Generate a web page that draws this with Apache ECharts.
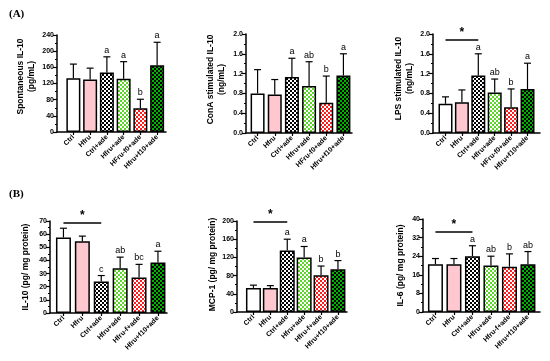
<!DOCTYPE html>
<html><head><meta charset="utf-8">
<script src="https://cdn.jsdelivr.net/npm/echarts@6/dist/echarts.min.js"></script>
<style>html,body{margin:0;padding:0;background:#fff}#c{width:550px;height:361px}</style>
</head><body><div id="c"></div>
<script>
// ---------- data ----------
const catsTop = ['Ctrl','Hfru','Ctrl+ade','Hfru+ade','HFru-f0+ade','Hfru+f10+ade'];
const catsBottom = ['Ctrl','Hfru','Ctrl+ade','Hfru+ade','Hfru-f+ade','Hfru+f10+ade'];

const spontMean = [133, 130, 147, 132, 59, 165];
const spontSD   = [35, 28, 39, 42, 22, 57];
const spontLetters = ['', '', 'a', 'a', 'b', 'a'];

const conaMean = [0.80, 0.78, 1.13, 0.95, 0.61, 1.16];
const conaSD   = [0.48, 0.30, 0.38, 0.49, 0.54, 0.44];
const conaLetters = ['', '', 'a', 'ab', 'b', 'a'];

const lpsMean = [0.59, 0.62, 1.16, 0.82, 0.52, 0.89];
const lpsSD   = [0.14, 0.25, 0.44, 0.27, 0.37, 0.52];
const lpsLetters = ['', '', 'a', 'ab', 'b', 'a'];

const il10Mean = [57.5, 54.5, 24, 34, 27, 38.5];
const il10SD   = [7, 4, 4.5, 8.5, 10, 8.5];
const il10Letters = ['', '', 'c', 'ab', 'bc', 'a'];

const mcpMean = [53, 53, 135, 120, 81, 94];
const mcpSD   = [6, 5, 25, 24, 20, 19];
const mcpLetters = ['', '', 'a', 'a', 'b', 'b'];

const il6Mean = [20.5, 20.5, 24, 20, 19.5, 20.5];
const il6SD   = [2.5, 2.5, 4.5, 4, 5.5, 5.5];
const il6Letters = ['', '', 'a', 'ab', 'b', 'ab'];

// significance bar heights (axis units), null = none
const sigLevels = [null, null, 1.88, 68.5, 198, 34.4];

// ---------- styles ----------
function checker(c1, c2) {
  const cv = document.createElement('canvas');
  cv.width = 4; cv.height = 4;
  const ctx = cv.getContext('2d');
  ctx.fillStyle = c1; ctx.fillRect(0, 0, 4, 4);
  ctx.fillStyle = c2; ctx.fillRect(0, 0, 2, 2); ctx.fillRect(2, 2, 2, 2);
  return { image: cv, repeat: 'repeat' };
}
const fills = [
  '#ffffff',
  '#ffc8d0',
  checker('#ffffff', '#000000'),
  checker('#ffffff', '#5cd628'),
  checker('#ffffff', '#ff1c1c'),
  checker('#000000', '#00b400')
];
const FONT = 'Liberation Sans, Arial, sans-serif';

const panels = [
  { cats: catsTop, mean: spontMean, sd: spontSD, letters: spontLetters, max: 240, interval: 40, dec: 0,
    name: 'Spontaneous IL-10\n(pg/mL)', axisX: 57, xEnd: 166, top: 35, bottom: 132, bandL: 65, bandW: 100.5, barW: 14, gap: 20, pad: 14 },
  { cats: catsTop, mean: conaMean, sd: conaSD, letters: conaLetters, max: 2.0, interval: 0.4, dec: 1,
    name: 'ConA stimulated IL-10\n(ng/mL)', axisX: 246, xEnd: 352, top: 34, bottom: 133, bandL: 249, bandW: 103, barW: 14, gap: 19, pad: 8 },
  { cats: catsTop, mean: lpsMean, sd: lpsSD, letters: lpsLetters, max: 2.0, interval: 0.4, dec: 1,
    name: 'LPS stimulated IL-10\n(ng/mL)', axisX: 433, xEnd: 540, top: 34, bottom: 133, bandL: 437.3, bandW: 98.4, barW: 14, gap: 18, pad: 10 },
  { cats: catsBottom, mean: il10Mean, sd: il10SD, letters: il10Letters, max: 70, interval: 10, dec: 0,
    name: 'IL-10 (pg/ mg protein)', axisX: 50, xEnd: 167, top: 221, bottom: 313, bandL: 54, bandW: 113.4, barW: 15, gap: 19, pad: 0 },
  { cats: catsBottom, mean: mcpMean, sd: mcpSD, letters: mcpLetters, max: 200, interval: 40, dec: 0,
    name: 'MCP-1 (pg/ mg protein)', axisX: 237, xEnd: 347, top: 221, bottom: 312, bandL: 245, bandW: 101.4, barW: 15, gap: 19, pad: 4 },
  { cats: catsBottom, mean: il6Mean, sd: il6SD, letters: il6Letters, max: 40, interval: 8, dec: 0,
    name: 'IL-6 (pg/ mg protein)', axisX: 423, xEnd: 540, top: 219, bottom: 312, bandL: 426.2, bandW: 111, barW: 15, gap: 17, pad: 0 }
];

const grid = [], xAxis = [], yAxis = [], series = [];
panels.forEach((p, k) => {
  const gA = 2 * k, gB = 2 * k + 1;
  grid.push({ left: p.axisX, top: p.top, width: p.xEnd - p.axisX, height: p.bottom - p.top });
  grid.push({ left: p.bandL, top: p.top, width: p.bandW, height: p.bottom - p.top });
  xAxis.push({ type: 'category', gridIndex: gA, data: p.cats,
    axisLine: { show: true, lineStyle: { color: '#000', width: 1.5 } },
    axisTick: { show: false }, axisLabel: { show: false } });
  xAxis.push({ type: 'category', gridIndex: gB, data: p.cats,
    axisLine: { show: false },
    axisTick: { show: true, alignWithLabel: true, length: 3, lineStyle: { color: '#000', width: 1.2 } },
    axisLabel: { show: true, interval: 0, rotate: 45, margin: 4, color: '#000', fontSize: 7, fontWeight: 'bold', fontFamily: FONT } });
  yAxis.push({ type: 'value', gridIndex: gA, min: 0, max: p.max, interval: p.interval,
    axisLine: { show: true, lineStyle: { color: '#000', width: 1.5 } },
    axisTick: { show: true, length: 4, lineStyle: { color: '#000', width: 1.2 } },
    minorTick: { show: true, splitNumber: 2, length: 2, lineStyle: { color: '#000', width: 1 } },
    splitLine: { show: false },
    axisLabel: { color: '#000', fontSize: 7, fontWeight: 'bold', fontFamily: FONT, margin: 3,
      formatter: v => v.toFixed(p.dec) },
    name: p.name, nameLocation: 'middle', nameRotate: 90, nameGap: p.gap,
    nameTextStyle: { color: '#000', fontSize: 8.5, fontWeight: 'bold', fontFamily: FONT, lineHeight: 11,
      padding: [0, 0, 0, p.pad] } });
  yAxis.push({ type: 'value', gridIndex: gB, min: 0, max: p.max, interval: p.interval, show: false });

  const bar = {
    type: 'bar', xAxisIndex: gB, yAxisIndex: gB, barWidth: p.barW, z: 2,
    data: p.mean.map((v, i) => ({ value: v, itemStyle: { color: fills[i] } })),
    itemStyle: { borderColor: '#000', borderWidth: 1.5 }
  };
  const lvl = sigLevels[k];
  if (lvl !== null) {
    bar.markLine = {
      silent: true, symbol: 'none', animation: false,
      lineStyle: { color: '#000', width: 1.5, type: 'solid' },
      label: { show: true, position: 'middle', formatter: '*', color: '#000', fontSize: 12, fontWeight: 'bold', fontFamily: FONT, distance: 1 },
      data: [[{ coord: [p.cats[0], lvl] }, { coord: [p.cats[2], lvl] }]]
    };
  }
  series.push(bar);
  series.push({
    type: 'custom', xAxisIndex: gB, yAxisIndex: gB, z: 3,
    data: p.mean.map((m, i) => [i, m, m + p.sd[i]]),
    renderItem: (params, api) => {
      const base = api.coord([api.value(0), api.value(1)]);
      const top = api.coord([api.value(0), api.value(2)]);
      const hw = 3.5;
      const st = { stroke: '#000', lineWidth: 1.2 };
      const letter = p.letters[params.dataIndex];
      const children = [
        { type: 'line', shape: { x1: base[0], y1: base[1], x2: top[0], y2: top[1] }, style: st },
        { type: 'line', shape: { x1: top[0] - hw, y1: top[1], x2: top[0] + hw, y2: top[1] }, style: st }
      ];
      if (letter) children.push({ type: 'text', style: { text: letter, x: top[0], y: top[1] - 2,
        align: 'center', verticalAlign: 'bottom', fill: '#000', fontSize: 9, fontFamily: FONT } });
      return { type: 'group', children };
    }
  });
});

const chart = echarts.init(document.getElementById('c'), null, { renderer: 'canvas' });
chart.setOption({
  animation: false,
  backgroundColor: '#fff',
  title: [
    { text: '(A)', left: 4, top: 4, textStyle: { fontFamily: 'Liberation Serif, serif', fontWeight: 'bold', fontSize: 11, color: '#000' } },
    { text: '(B)', left: 4, top: 184, textStyle: { fontFamily: 'Liberation Serif, serif', fontWeight: 'bold', fontSize: 11, color: '#000' } }
  ],
  grid, xAxis, yAxis, series
});
</script>
</body></html>
